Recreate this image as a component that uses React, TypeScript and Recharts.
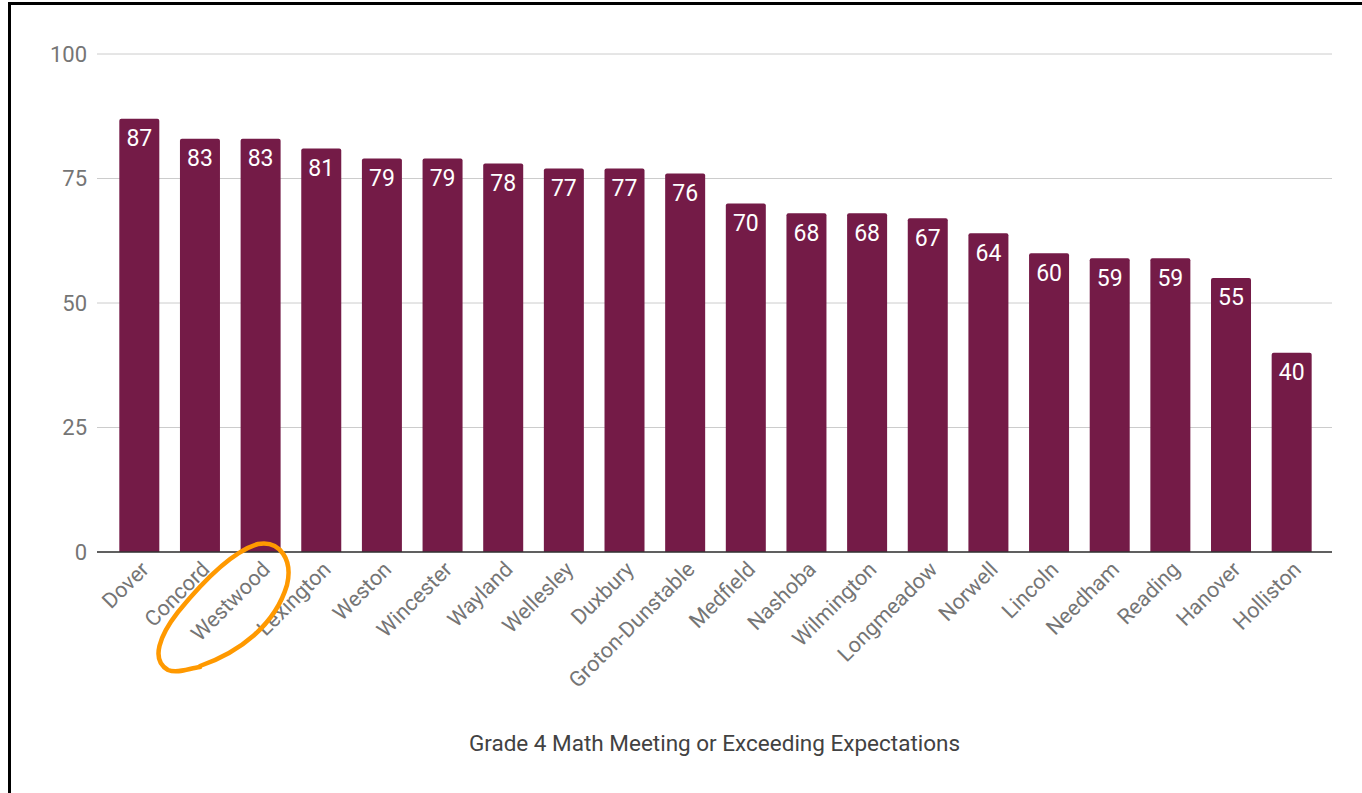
import React from "react";
import { BarChart, Bar, XAxis, YAxis, CartesianGrid, LabelList } from "recharts";

const districts = [
  "Dover", "Concord", "Westwood", "Lexington", "Weston", "Wincester", "Wayland",
  "Wellesley", "Duxbury", "Groton-Dunstable", "Medfield", "Nashoba", "Wilmington",
  "Longmeadow", "Norwell", "Lincoln", "Needham", "Reading", "Hanover", "Holliston",
];
const percentMeeting = [87, 83, 83, 81, 79, 79, 78, 77, 77, 76, 70, 68, 68, 67, 64, 60, 59, 59, 55, 40];
const yTicks = [0, 25, 50, 75, 100];
const chartTitle = "Grade 4 Math Meeting or Exceeding Expectations";

const data = districts.map((name, i) => ({ name, value: percentMeeting[i] }));

const FONT = "Roboto, 'Noto Sans', sans-serif";

export default function App() {
  return (
    <div
      style={{
        position: "fixed",
        left: 0,
        top: 0,
        width: 1362,
        height: 793,
        overflow: "hidden",
        background: "#fff",
      }}
    >
      <div
        style={{
          position: "absolute",
          left: 8,
          top: 2,
          width: 1420,
          height: 900,
          border: "3px solid #000",
          boxSizing: "border-box",
        }}
      />
      <div style={{ position: "absolute", left: 0, top: 0 }}>
        <BarChart
          width={1362}
          height={793}
          data={data}
          margin={{ top: 54, right: 30, bottom: 0, left: 0 }}
          barCategoryGap="17%"
          style={{ fontFamily: FONT }}
        >
          <CartesianGrid vertical={false} stroke="#cccccc" />
          <XAxis
            dataKey="name"
            interval={0}
            angle={-45}
            textAnchor="end"
            height={241}
            tickLine={false}
            axisLine={{ stroke: "#333333", strokeWidth: 1.5 }}
            padding={{ left: 12, right: 10 }}
            tick={{ fill: "#757575", fontSize: 21.5 }}
            label={{
              value: chartTitle,
              position: "insideBottom",
              offset: 42,
              fill: "#424242",
              fontSize: 22.5,
            }}
          />
          <YAxis
            width={97}
            domain={[0, 100]}
            ticks={yTicks}
            axisLine={false}
            tickLine={false}
            tickMargin={4}
            tick={{ fill: "#757575", fontSize: 22 }}
          />
          <Bar dataKey="value" fill="#741b47" radius={[2, 2, 0, 0]} isAnimationActive={false}>
            <LabelList
              dataKey="value"
              position="insideTop"
              offset={11}
              fill="#ffffff"
              fontSize={23}
            />
          </Bar>
        </BarChart>
      </div>
      <svg
        width={1362}
        height={793}
        style={{ position: "absolute", left: 0, top: 0, pointerEvents: "none" }}
      >
        <path
          d="M200,666 C 240,652 275,625 287,585 C 293,560 280,540 258,544 C 230,552 200,585 178,612 C 160,635 150,660 168,670 C 178,674 190,668 200,667"
          fill="none"
          stroke="#ff9900"
          strokeWidth={4.5}
          strokeLinecap="round"
        />
      </svg>
    </div>
  );
}
